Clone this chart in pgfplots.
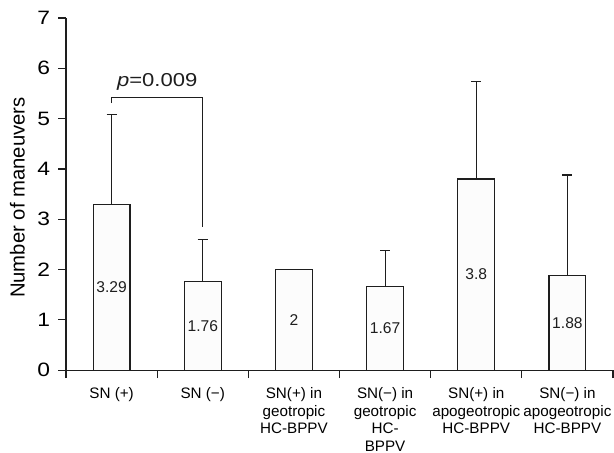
\documentclass[border=0pt]{standalone}
\usepackage{pgfplots}
\pgfplotsset{compat=1.18}
\usepackage{pgfplotstable}
\usepackage{fontspec}
\setmainfont{Liberation Sans}
\newfontfamily\widesans[FakeStretch=1.18]{Liberation Sans}

\definecolor{barfill}{RGB}{252,252,252}
\definecolor{ink}{RGB}{30,30,30}

% means and upper SD
\pgfplotstableread{
x y err
0 3.29 1.80
1 1.76 0.84
2 2.00 0.00
3 1.67 0.71
4 3.80 1.93
5 1.88 2.00
}\means

% value labels, set at half the bar height
\pgfplotstableread{
x y lab
0 1.645 3.29
1 0.88 1.76
2 1.00 2
3 0.835 1.67
4 1.90 3.8
5 0.94 1.88
}\vals

\begin{document}
\begin{tikzpicture}
\begin{axis}[
    name=main,
    scale only axis,
    width=410pt, height=264pt,
    xmin=-0.5, xmax=5.5,
    ymin=0, ymax=7,
    axis lines*=left,
    axis line style={ink, line width=0.9pt},
    xtick={0,...,5},
    xticklabels={
        SN (+),
        SN (−),
        {SN(+) in\\geotropic\\HC-BPPV},
        {SN(−) in\\geotropic\\HC-\\BPPV},
        {SN(+) in\\apogeotropic\\HC-BPPV},
        {SN(−) in\\apogeotropic\\HC-BPPV}},
    major x tick style={draw=none},
    minor xtick={-0.5,0.5,...,5.5},
    minor tick length=6pt,
    ytick={0,...,7},
    major tick length=6pt,
    tick align=outside,
    tick style={ink, line width=0.9pt},
    xticklabel style={font=\fontsize{11.4}{13.1}\selectfont, align=center, anchor=north, yshift=-3.5pt},
    yticklabel style={font=\widesans\fontsize{14.5}{16}\selectfont, xshift=-2.5pt},
    /pgf/number format/assume math mode=true,
    ylabel={Number of maneuvers},
    ylabel style={font=\fontsize{15.2}{17}\selectfont, at={(axis description cs:-0.075,0.49)}, anchor=south, inner sep=0pt},
]
\addplot[ybar, bar width=0.405, fill=barfill, draw=ink, line width=0.9pt,
    error bars/.cd, y dir=plus, y explicit,
    error bar style={ink, line width=0.8pt},
    error mark options={rotate=90, ink, line width=0.8pt, mark size=3.8pt}]
    table[x=x, y=y, y error=err] {\means};
\addplot[draw=none, mark=none, nodes near coords, point meta=explicit symbolic,
    every node near coord/.append style={anchor=center, font=\fontsize{11.7}{13}\selectfont, text=ink}]
    table[x=x, y=y, meta=lab] {\vals};
\draw[ink, line width=0.8pt] (axis cs:0,5.31) -- (axis cs:0,5.42) -- (axis cs:1,5.42) -- (axis cs:1,2.85);
\node[font=\widesans\fontsize{14}{16}\selectfont, anchor=base, text=ink] at (axis cs:0.5,5.63) {\textit{p}=0.009};
\end{axis}
\pgfresetboundingbox
\path[use as bounding box] ([xshift=-49.5pt, yshift=-61.5pt]main.south west) rectangle ([xshift=0.75pt, yshift=13.5pt]main.north east);
\end{tikzpicture}
\end{document}
